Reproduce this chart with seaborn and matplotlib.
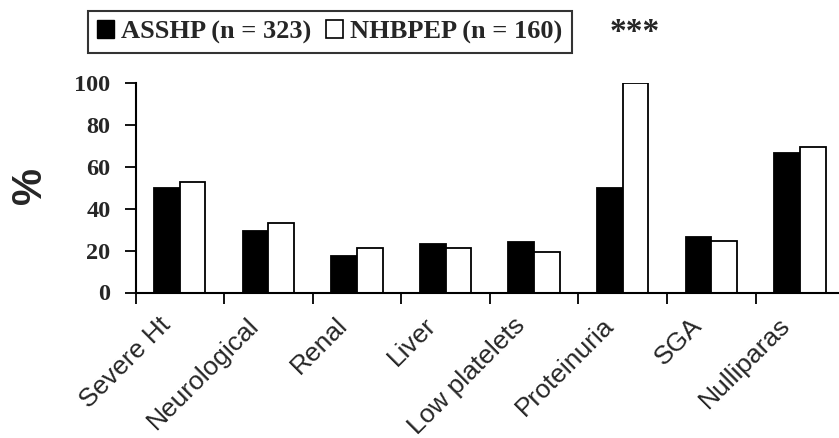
import matplotlib
matplotlib.use("Agg")
import matplotlib.pyplot as plt
import matplotlib.transforms as mtransforms
import seaborn as sns
import pandas as pd
import numpy as np
from matplotlib.patches import Patch

categories = ["Severe Ht", "Neurological", "Renal", "Liver", "Low platelets",
              "Proteinuria", "SGA", "Nulliparas"]
asshp = [50, 29.5, 17.5, 23, 24, 50, 26.5, 66.5]
nhbpep = [53, 33, 21.5, 21.5, 19.5, 100, 24.5, 69.5]
series_names = ["ASSHP (n = 323)", "NHBPEP (n = 160)"]
yticks = [0, 20, 40, 60, 80, 100]

df = pd.DataFrame({
    "category": categories * 2,
    "value": asshp + nhbpep,
    "group": [series_names[0]] * len(categories) + [series_names[1]] * len(categories),
})

sns.set_theme(style="ticks")
plt.rcParams['font.family'] = ['Liberation Sans', 'DejaVu Sans']

W, H = 839, 438
fig = plt.figure(figsize=(W / 100, H / 100), dpi=100)
left, right, bottom, top = 135.5, 844.2, 292.5, 83.3
ax = fig.add_axes([left / W, 1 - bottom / H, (right - left) / W, (bottom - top) / H])

sns.barplot(data=df, x="category", y="value", hue="group", order=categories,
            hue_order=series_names, palette=["black", "white"], width=0.58,
            edgecolor="black", linewidth=1.3, saturation=1, ax=ax, legend=False)

ax.set_xlim(-0.5, len(categories) - 0.5)
ax.set_ylim(0, 100)
ax.set_yticks(yticks)
ax.set_yticklabels([str(v) for v in yticks], fontfamily="Liberation Serif",
                   fontweight="bold", fontsize=17.5)
ax.tick_params(axis="y", length=8, width=1.3, color="black", pad=10)
ax.set_xticks(range(len(categories)))
ax.set_xticklabels(categories, rotation=45, ha="right", va="center",
                   rotation_mode="anchor", fontsize=19)
ax.tick_params(axis="x", which="major", length=0, pad=21)
offset = mtransforms.ScaledTranslation(-13 / 100, 0, fig.dpi_scale_trans)
for lbl in ax.get_xticklabels():
    lbl.set_transform(lbl.get_transform() + offset)
ax.set_xticks(np.arange(-0.5, len(categories) - 0.5, 1), minor=True)
ax.tick_params(axis="x", which="minor", length=8, width=1.3, color="black")
ax.set_xlabel("")
ax.set_ylabel("")
for s in ["top", "right"]:
    ax.spines[s].set_visible(False)
for s in ["left", "bottom"]:
    ax.spines[s].set_color("black")
    ax.spines[s].set_linewidth(1.5)

fig.text(30 / W, 1 - 185.5 / H, "%", rotation=90, ha="center", va="center",
         fontsize=30, fontweight="bold")

handles = [Patch(facecolor="black", edgecolor="black"),
           Patch(facecolor="white", edgecolor="black", linewidth=1.2)]
leg = fig.legend(handles, series_names, loc="upper left",
                 bbox_to_anchor=(87.5 / W, 1 - 11 / H), ncol=2, frameon=True,
                 fancybox=False, edgecolor="black", borderpad=0.35,
                 handlelength=0.64, handleheight=0.64, handletextpad=0.27,
                 columnspacing=0.57, borderaxespad=0,
                 prop={"family": "Liberation Serif", "weight": "bold", "size": 19})
leg.get_frame().set_linewidth(1.5)

fig.text(635 / W, 1 - 32 / H, "***", ha="center", va="center",
         fontsize=24, fontweight="bold", fontfamily="Liberation Serif")

fig.savefig("out.png", dpi=100)
